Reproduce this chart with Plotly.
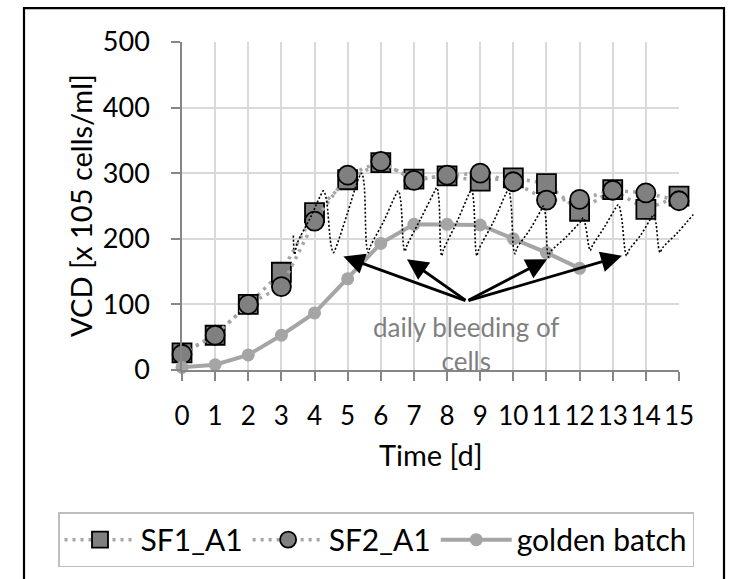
import plotly.graph_objects as go

# --- data ---
days = list(range(16))
sf1_a1 = [26, 53, 100, 149, 240, 290, 316, 291, 296, 288, 293, 284, 242, 275, 245, 265]
sf2_a1 = [24, 53, 100, 127, 227, 297, 318, 289, 297, 300, 287, 259, 260, 274, 270, 258]

gb_days = list(range(13))
golden_batch = [4, 8, 23, 53, 87, 139, 193, 222, 222, 221, 200, 179, 155]

# simulated VCD with daily bleeding (dotted sawtooth), peaks/troughs + shoulders
saw_x = [3.36, 3.40, 3.47, 3.9, 4.18, 4.27, 4.35, 4.50, 4.57, 4.64,
         5.0, 5.33, 5.42, 5.49, 5.57, 5.62, 5.68,
         6.1, 6.44, 6.53, 6.60, 6.69, 6.73, 6.79,
         7.2, 7.61, 7.69, 7.75, 7.81, 7.84, 7.89,
         8.3, 8.66, 8.74, 8.80, 8.87, 8.90, 8.95,
         9.4, 9.77, 9.85, 9.92, 10.01, 10.05, 10.11,
         10.5, 10.84, 10.91, 10.97, 11.03, 11.06, 11.12,
         11.6, 12.04, 12.11, 12.18, 12.28, 12.32, 12.38,
         12.75, 13.09, 13.17, 13.25, 13.38, 13.42, 13.48,
         13.85, 14.16, 14.23, 14.30, 14.39, 14.43, 14.50,
         14.95, 15.43]
saw_y = [205, 176, 192, 235, 266, 273, 262, 190, 179, 186,
         240, 292, 300, 286, 190, 179, 188,
         228, 266, 273, 258, 188, 181, 190,
         230, 271, 278, 262, 182, 174, 183,
         226, 268, 275, 258, 181, 174, 183,
         226, 268, 275, 259, 184, 177, 186,
         214, 244, 250, 236, 179, 172, 180,
         203, 227, 232, 220, 188, 182, 189,
         218, 247, 252, 238, 180, 174, 182,
         206, 232, 237, 225, 185, 179, 186,
         209, 237]

# bleeding arrows: common tail, several heads
arrow_tail = (8.6, 105)
arrow_tips_x = [4.87, 6.79, 11.02, 13.28]
arrow_tips_y = [173, 169, 169, 174]

x_ticks = list(range(16))
y_ticks = [0, 100, 200, 300, 400, 500]

# --- layout geometry (pixels) ---
W, H = 729, 579
L, R, T, B = 182, 30, 42, 207
plot_w = W - L - R
plot_h = H - T - B
x_main_px = 497  # width of the 0..15 axis


def px_x(p):
    return (p - L) / plot_w


def px_y(p):
    return (H - B - p) / plot_h


FONT = "Lato"
GRID = "#d9d9d9"
AXIS = "#868686"

fig = go.Figure()

fig.add_trace(go.Scatter(
    x=days, y=sf1_a1, name="SF1_A1", mode="lines+markers",
    line=dict(color="#a6a6a6", width=3.5, dash="3px,5px"),
    marker=dict(symbol="square", size=19, color="#808080",
                line=dict(color="black", width=1.8)),
    cliponaxis=False,
))
fig.add_trace(go.Scatter(
    x=days, y=sf2_a1, name="SF2_A1", mode="lines+markers",
    line=dict(color="#a6a6a6", width=3.5, dash="3px,5px"),
    marker=dict(symbol="circle", size=19, color="#808080",
                line=dict(color="black", width=1.8)),
    cliponaxis=False,
))
fig.add_trace(go.Scatter(
    x=gb_days, y=golden_batch, name="golden batch", mode="lines+markers",
    line=dict(color="#a5a5a5", width=4),
    marker=dict(symbol="circle", size=13, color="#a5a5a5"),
    cliponaxis=False,
))
# sawtooth on its own (wider) axes so it can run past day 15
fig.add_trace(go.Scatter(
    x=saw_x, y=saw_y, mode="lines", showlegend=False,
    line=dict(color="black", width=1.6, dash="2px,2px", shape="spline", smoothing=1.0),
    xaxis="x2", yaxis="y2",
))

annotations = []
for tx, ty in zip(arrow_tips_x, arrow_tips_y):
    annotations.append(dict(
        x=tx, y=ty, ax=arrow_tail[0], ay=arrow_tail[1],
        xref="x", yref="y", axref="x", ayref="y", text="",
        showarrow=True, arrowhead=2, arrowsize=1.5, arrowwidth=2.8,
        arrowcolor="black", standoff=0,
    ))
annotations.append(dict(
    x=arrow_tail[0], y=39, xref="x", yref="y", showarrow=False,
    text="daily bleeding of<br>cells", align="center",
    font=dict(family=FONT, size=26, color="#7f7f7f"),
))
annotations.append(dict(
    x=px_x(431), y=px_y(457), xref="paper", yref="paper", showarrow=False,
    text="Time [d]", xanchor="center", yanchor="middle",
    font=dict(family=FONT, size=29, color="black"),
))
annotations.append(dict(
    x=px_x(80), y=px_y(207), xref="paper", yref="paper", showarrow=False,
    text="VCD [x 105 cells/ml]", textangle=-90, xanchor="center", yanchor="middle",
    font=dict(family=FONT, size=29, color="black"),
))

fig.update_layout(
    width=W, height=H,
    margin=dict(l=L, r=R, t=T, b=B),
    paper_bgcolor="white",
    plot_bgcolor="rgba(0,0,0,0)",
    font=dict(family=FONT, size=27, color="black"),
    xaxis=dict(
        domain=[0, x_main_px / plot_w], range=[0, 15],
        tickvals=x_ticks, tickangle=0, tickfont=dict(size=26),
        showgrid=True, gridcolor=GRID, gridwidth=1.5,
        showline=True, linecolor=AXIS, linewidth=1.5, zeroline=False,
        ticks="outside", ticklen=9, tickwidth=1.5, tickcolor=AXIS,
        ticklabelstandoff=13,
    ),
    yaxis=dict(
        range=[0, 500], tickvals=y_ticks, showgrid=True, gridcolor=GRID, gridwidth=1.5,
        showline=True, linecolor=AXIS, linewidth=1.5, zeroline=False,
        ticks="outside", ticklen=9, tickwidth=1.5, tickcolor=AXIS,
        ticklabelstandoff=16,
    ),
    xaxis2=dict(domain=[0, 1], range=[0, 15 * plot_w / x_main_px], visible=False,
                anchor="y2"),
    yaxis2=dict(domain=[0, 1], range=[0, 500], visible=False, anchor="x2"),
    legend=dict(
        orientation="h", x=px_x(58), y=px_y(515), xanchor="left", yanchor="top",
        bordercolor="#bfbfbf", borderwidth=1.5, bgcolor="white",
        itemwidth=71,
        font=dict(family=FONT, size=30, color="black"),
    ),
    annotations=annotations,
    shapes=[dict(
        type="rect", xref="paper", yref="paper",
        x0=px_x(24), x1=px_x(724), y0=px_y(640), y1=px_y(8),
        line=dict(color="black", width=2.2), fillcolor="rgba(0,0,0,0)", layer="above",
    )],
    showlegend=True,
)

# page body has a default 8px margin; drop it so the figure sits at the window origin
fig.write_html("out.html", config={"displayModeBar": False},
               post_script="document.body.style.margin='0px';")
